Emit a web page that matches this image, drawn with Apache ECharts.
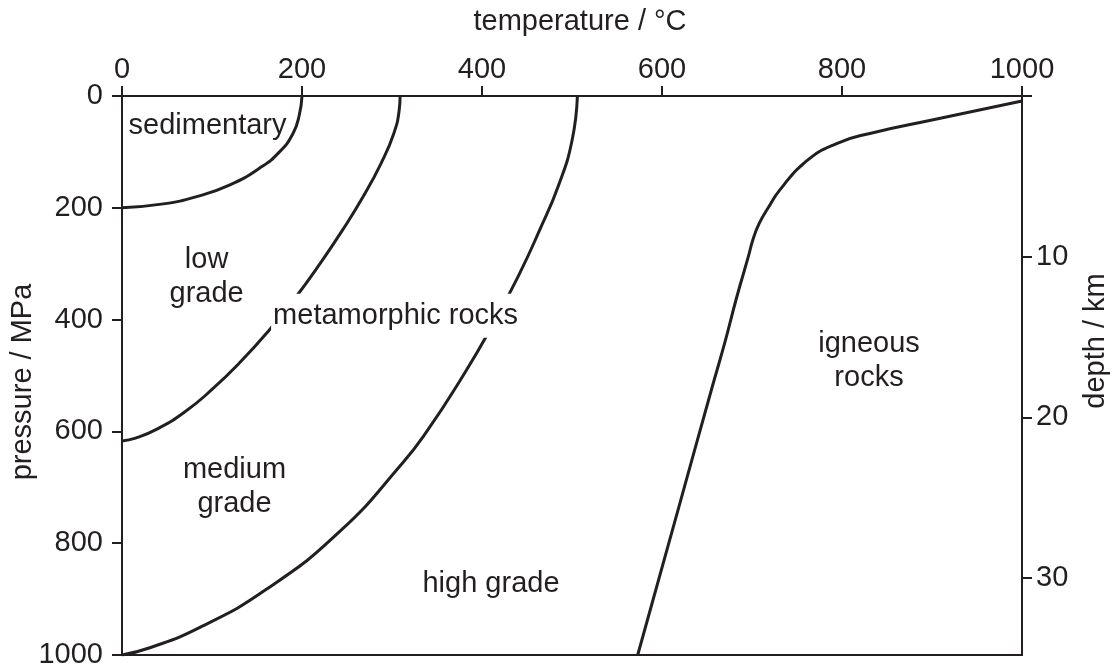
<!DOCTYPE html>
<html>
<head>
<meta charset="utf-8">
<script src="https://cdn.jsdelivr.net/npm/echarts@6/dist/echarts.min.js"></script>
<style>
html, body { margin: 0; padding: 0; background: #fff; }
#chart { width: 1118px; height: 670px; }
</style>
</head>
<body>
<div id="chart"></div>
<script>
// boundaries, [temperature °C, pressure MPa]
var sedimentaryEdge = [[200, 0], [197, 34], [190, 67], [175, 100], [153, 129], [120, 159], [83, 180], [46, 193], [0, 200]];
var lowGradeEdge = [[309, 0], [308, 25], [302, 67], [288, 120], [268, 180], [245, 240], [220, 300], [193, 360], [163, 420], [132, 475], [100, 525], [70, 565], [40, 595], [15, 612], [0, 617]];
var mediumGradeEdge = [[506, 0], [500, 80], [485, 160], [464, 240], [441, 320], [408, 421], [376, 508], [340, 597], [312, 656], [242, 779], [160, 883], [86, 951], [31, 987], [0, 1000]];
var igneousEdge = [[1000, 9], [900, 43], [831, 67], [794, 85], [760, 117], [731, 168], [718, 200], [708, 228], [701, 257], [696, 287], [683, 360], [670, 440], [655, 525], [620, 728], [573, 1000]];

// region names and where they sit
var regionNames = ['sedimentary', 'low\ngrade', 'metamorphic rocks', 'medium\ngrade', 'high grade', 'igneous\nrocks'];
var regionPos = [[95, 53], [94, 324], [304, 393], [125, 700], [410, 873], [830, 474]];

// depth axis ticks (km)
var depthTicks = [0, 10, 20, 30];
var depthLabels = [10, 20, 30];

var ink = '#231f20';
var fontFamily = '"Liberation Sans", Arial, Helvetica, sans-serif';
var fontSize = 29;

var chart = echarts.init(document.getElementById('chart'));

function edge(data) {
  return {
    type: 'line',
    data: data,
    showSymbol: false,
    smooth: 0.5,
    silent: true,
    lineStyle: { color: ink, width: 3 }
  };
}

function plain(v) { return String(v); }

var lineStyle = { color: ink, width: 2 };

var option = {
  animation: false,
  backgroundColor: '#fff',
  grid: { left: 122, right: 96, top: 96, bottom: 15 },
  xAxis: [
    {
      type: 'value', position: 'top', min: 0, max: 1000, interval: 200,
      axisLine: { show: true, onZero: false, lineStyle: lineStyle },
      axisTick: { show: true, length: 10, lineStyle: lineStyle },
      axisLabel: { color: ink, fontSize: fontSize, fontFamily: fontFamily, margin: 12, formatter: plain },
      splitLine: { show: false }
    },
    {
      type: 'value', position: 'bottom', min: 0, max: 1000,
      axisLine: { show: true, onZero: false, lineStyle: lineStyle },
      axisTick: { show: false },
      axisLabel: { show: false },
      splitLine: { show: false }
    }
  ],
  yAxis: [
    {
      type: 'value', position: 'left', inverse: true, min: 0, max: 1000, interval: 200,
      axisLine: { show: true, onZero: false, lineStyle: lineStyle },
      axisTick: { show: true, length: 10, lineStyle: lineStyle },
      axisLabel: { color: ink, fontSize: fontSize, fontFamily: fontFamily, margin: 19, formatter: plain },
      splitLine: { show: false }
    },
    {
      type: 'value', position: 'right', inverse: true, min: 0, max: 34.8,
      axisLine: { show: true, onZero: false, lineStyle: lineStyle },
      axisTick: { show: true, length: 10, lineStyle: lineStyle, customValues: depthTicks },
      axisLabel: { color: ink, fontSize: fontSize, fontFamily: fontFamily, margin: 14, customValues: depthLabels },
      splitLine: { show: false }
    }
  ],
  graphic: [
    { type: 'text', x: 580, y: 22, silent: true,
      style: { text: 'temperature / °C', font: fontSize + 'px ' + fontFamily, fill: ink, align: 'center', verticalAlign: 'middle' } },
    { type: 'text', x: 23, y: 382, rotation: Math.PI / 2, silent: true,
      style: { text: 'pressure / MPa', font: fontSize + 'px ' + fontFamily, fill: ink, align: 'center', verticalAlign: 'middle' } },
    { type: 'text', x: 1096, y: 341, rotation: Math.PI / 2, silent: true,
      style: { text: 'depth / km', font: fontSize + 'px ' + fontFamily, fill: ink, align: 'center', verticalAlign: 'middle' } }
  ],
  series: [
    edge(sedimentaryEdge),
    edge(lowGradeEdge),
    edge(mediumGradeEdge),
    edge(igneousEdge),
    {
      type: 'scatter',
      z: 5,
      silent: true,
      symbolSize: 1,
      itemStyle: { color: 'rgba(0,0,0,0)', opacity: 1 },
      label: {
        show: true, position: 'inside', formatter: '{b}',
        color: ink, fontSize: fontSize, fontFamily: fontFamily, lineHeight: 34,
        align: 'center', verticalAlign: 'middle'
      },
      data: regionNames.map(function (name, i) {
        var item = { name: name, value: regionPos[i] };
        // the boundary lines break around this label
        if (name === 'metamorphic rocks') {
          item.label = { backgroundColor: '#fff', padding: [5, 2] };
        }
        return item;
      })
    }
  ]
};

chart.setOption(option);
</script>
</body>
</html>
